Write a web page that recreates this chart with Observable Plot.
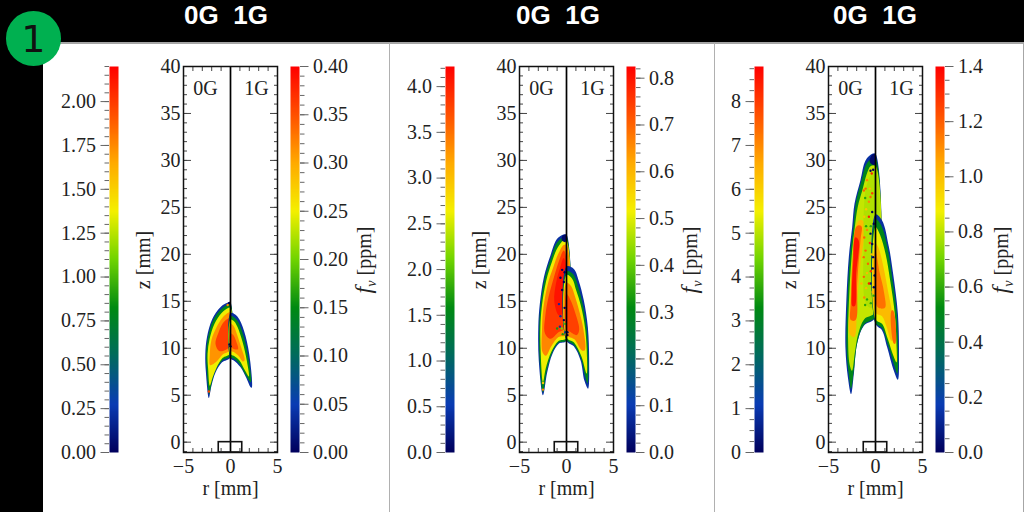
<!DOCTYPE html>
<html><head><meta charset="utf-8">
<script src="https://cdn.jsdelivr.net/npm/d3@7"></script>
<script src="https://cdn.jsdelivr.net/npm/@observablehq/plot@0.6"></script>
<style>
html,body{margin:0;padding:0;background:#000;width:1024px;height:512px;overflow:hidden}
.abs{position:absolute}
svg{position:absolute;overflow:visible;background:transparent!important}
.head{color:#fff;font:700 26px/28px "Liberation Sans";white-space:pre;transform:translateX(-50%);top:1px}
.fv{font:20px "Liberation Serif";color:#222;white-space:nowrap;transform:translate(-50%,-50%) rotate(-90deg)}
.fv sub{font-size:14px;font-style:italic;line-height:0}
.fv i{font-size:24px}
</style></head><body>
<div id="root"></div>
<script>
// ---- data ----
const colorStops  = [0, 0.125, 0.25, 0.375, 0.5, 0.625, 0.75, 0.875, 1];
const colorRange  = ["#00005c","#0a3cb4","#006a5e","#008a12","#70d400","#f4f000","#ffaa00","#ff5000","#ff0000"];

const zMajor = [0,5,10,15,20,25,30,35,40];
const zMinor = d3.range(-1,41);
const rMajor = [-5,0,5];
const rMinor = [-4,-3,-2,-1,1,2,3,4];
const burnerR = [-1.25,1.25];

const leftMax  = [2.2, 4.22, 8.8];
const rightMax = [0.4, 0.825, 1.4];
const leftTicks  = [[0,.25,.5,.75,1,1.25,1.5,1.75,2],[0,.5,1,1.5,2,2.5,3,3.5,4],[0,1,2,3,4,5,6,7,8]];
const leftMinorStep = [0.05,0.1,0.25];
const rightTicks = [[0,.05,.1,.15,.2,.25,.3,.35,.4],[0,.1,.2,.3,.4,.5,.6,.7,.8],[0,.2,.4,.6,.8,1,1.2,1.4]];
const rightMinorStep = [0.01,0.02,0.05];
const leftFormat  = [".2f",".1f","d"];
const rightFormat = [".2f",".1f",".1f"];

const flame1_0G = [
 [.1,[[-.1,14.95],[-1.05,14.4],[-1.95,13.1],[-2.5,11.2],[-2.68,9.4],[-2.62,7.5],[-2.3,4.7],[-2.05,5.9],[-1.6,7.4],[-.9,8.5],[0,9.05],[0,14.95]]],
 [.36,[[-.2,14.7],[-1,14.15],[-1.85,12.95],[-2.4,11.1],[-2.58,9.4],[-2.52,7.6],[-2.25,5.1],[-2.06,6.05],[-1.6,7.6],[-.9,8.68],[0,9.22],[0,14.7]]],
 [.62,[[-.2,14.3],[-.95,13.75],[-1.7,12.6],[-2.22,11],[-2.44,9.4],[-2.38,7.8],[-2.2,6],[-1.9,6.9],[-1.5,7.9],[-.85,8.95],[0,9.5],[0,14.3]]],
 [.78,[[-.2,13.8],[-.9,13.2],[-1.5,12.2],[-2.02,10.9],[-2.2,9.4],[-2.15,8.2],[-1.5,8.55],[-.8,9.35],[0,9.85],[0,13.8]]],
 [.9,[[-.2,13.2],[-.8,12.7],[-1.3,11.6],[-1.6,10.5],[-1.2,9.7],[-.4,9.9],[0,10.3],[0,13.2]]]
];
const flame1_1G = [
 [.1,[[0,13.75],[.5,13.6],[.95,13.05],[1.6,11.3],[2.1,8.6],[2.25,5.8],[2.1,5.9],[1.7,6.8],[1.05,8],[.35,8.7],[0,8.9]]],
 [.36,[[0,13.45],[.45,13.25],[.85,12.75],[1.47,11],[1.97,8.5],[2.17,6.4],[1.65,7.1],[1,8.25],[.35,8.9],[0,9.08]]],
 [.62,[[0,13.05],[.4,12.85],[.75,12.25],[1.3,10.6],[1.75,8.6],[1.95,7],[1.5,7.7],[.95,8.7],[.35,9.2],[0,9.4]]],
 [.78,[[0,12.6],[.35,12.35],[.65,11.6],[1.1,10.2],[1.5,8.7],[1.3,8.6],[.85,9.2],[.35,9.6],[0,9.8]]],
 [.88,[[0,11.6],[.3,11.4],[.65,10.6],[.8,9.9],[.4,9.9],[0,10.2]]]
];
const flame1_dots = [[-.15,14.8,0],[-.3,14.6,.8],[-2.3,5.4,.9],[-.1,10.4,0],[0,10.2,0]];

const flame2_0G = [
 [.1,[[-.3,22.1],[-1,21.65],[-1.7,19.9],[-2.4,17.6],[-2.84,14.7],[-3,12.25],[-2.95,8.7],[-2.5,5],[-2.05,7.45],[-1.5,9.4],[-.8,10.5],[0,10.8],[0,22.1]]],
 [.36,[[-.3,21.85],[-1,21.25],[-1.62,19.7],[-2.3,17.5],[-2.74,14.7],[-2.9,12.2],[-2.86,8.8],[-2.5,5.3],[-2.13,7.5],[-1.56,9.45],[-.85,10.58],[0,10.88],[0,21.85]]],
 [.62,[[-.3,21.5],[-.95,20.7],[-1.52,19.3],[-2.16,17.2],[-2.62,14.5],[-2.78,12.2],[-2.74,9.3],[-2.5,6.4],[-2.2,7.9],[-1.6,9.65],[-.85,10.78],[0,11.1],[0,21.5]]],
 [.8,[[-.3,21],[-.9,20],[-1.38,18.7],[-2,16.8],[-2.46,14.3],[-2.6,12.2],[-2.56,9.6],[-2.2,9.2],[-1.6,10.25],[-.85,11.2],[0,11.45],[0,21]]],
 [.91,[[-.3,20.4],[-.8,19.3],[-1.3,17.7],[-1.9,15.5],[-2.25,13.5],[-2.3,11.6],[-1.7,11],[-.85,11.7],[-.2,12.1],[-.1,20]]],
 [.97,[[-.3,19.6],[-.7,18.5],[-1.1,17],[-1.3,15],[-.8,13.5],[-.2,14],[-.1,19]]],
 [.02,[[-.1,22.1],[-.4,22],[-.5,21.5],[-.1,21.3]]]
];
const flame2_1G = [
 [.1,[[0,18.7],[.78,18.45],[1.3,17.2],[1.84,15.1],[2.27,12.25],[2.41,8.7],[2.3,5.7],[1.9,6.57],[1.5,8.7],[.78,10.2],[0,10.8]]],
 [.36,[[0,18.2],[.7,17.9],[1.17,16.8],[1.68,14.9],[2.14,12.2],[2.32,8.8],[2.24,6.25],[1.95,7.15],[1.55,8.9],[.8,10.35],[0,10.92]]],
 [.62,[[0,17.8],[.6,17.4],[1.02,16.2],[1.54,14.5],[1.98,12.1],[2.18,9],[2.14,7.3],[1.6,9.1],[.8,10.6],[0,11.15]]],
 [.8,[[0,17],[.5,16.6],[.88,15.6],[1.35,14],[1.8,12],[1.95,9.8],[1.6,9.8],[.85,10.95],[0,11.45]]],
 [.9,[[0,15.8],[.4,15.2],[.95,13.7],[1.35,12],[1.1,11.4],[.3,11.8],[0,12]]]
];
const flame2_dots = [[-.46,18.35,0],[-.2,18.1,0],[-.64,17.5,0],[-.28,17.05,0],[-.46,16.2,0],[-.8,14.7,.1],[-.2,14.3,0],[-.64,13.4,.1],[-.28,13,0],[-.7,12.3,.1],[-.1,11.7,.1],[-1,12.1,.4],[-.4,11.5,.4],[-.15,12.6,.45],[-.5,12.1,.5],[.1,11.4,0],[.1,11.7,0],[-2.5,5.6,.8],[-2.5,6.3,.7]];

const flame3_0G = [
 [.1,[[-.35,30.7],[-1.06,30],[-1.6,27.9],[-2.23,25.4],[-2.48,22.9],[-2.84,19.7],[-3.1,15.1],[-3.2,10.1],[-2.94,6.9],[-2.6,5.1],[-2.3,7.3],[-1.95,10.5],[-1.24,12.4],[0,13.3],[0,30.7]]],
 [.36,[[-.35,30.25],[-1,29.55],[-1.5,27.8],[-2.1,25.4],[-2.35,22.9],[-2.72,19.7],[-2.98,15.1],[-3.08,10.1],[-2.84,7.2],[-2.6,5.7],[-2.3,7.7],[-1.92,10.7],[-1.2,12.55],[0,13.42],[0,30.25]]],
 [.58,[[-.5,29.4],[-.95,28.5],[-1.35,27],[-1.9,25],[-2.2,22.9],[-2.55,19.7],[-2.82,15.1],[-2.92,11],[-2.76,8.3],[-2.5,7.6],[-2.2,9.5],[-1.85,11.5],[-1.2,13.1],[0,13.85],[0,29.4]]],
 [.72,[[-1.8,23.6],[-2.36,19.7],[-2.66,15.5],[-2.72,11.5],[-2.25,11.2],[-1.95,15],[-1.6,19],[-1.2,23.5]]],
 [.85,[[-2,23],[-2.42,19.7],[-2.62,15],[-2.62,13],[-2.12,13],[-1.95,17],[-1.6,21.5],[-1.5,23]]],
 [.97,[[-2.15,21.8],[-2.38,19],[-2.52,16],[-2.47,14.5],[-2.2,14.5],[-2.05,18],[-1.8,21.5]]],
 [.56,[[-.9,27.5],[-1.25,24.5],[-1.25,21],[-1.3,17],[-1.1,15],[-.6,14.3],[0,14.5],[0,29]]],
 [.02,[[-.1,30.7],[-.45,30.5],[-.6,29.8],[-.1,29.5]]]
];
const flame3_1G = [
 [.1,[[0,24.25],[.7,23.6],[1.42,20.8],[1.88,17.9],[2.38,13.7],[2.5,9.4],[2.38,6.64],[1.95,7.6],[1.24,10.1],[.7,11.9],[0,12.6]]],
 [.36,[[0,23.75],[.6,23.1],[1.3,20.6],[1.75,17.7],[2.26,13.7],[2.4,9.6],[2.32,7.3],[2,8.2],[1.3,10.45],[.7,12.15],[0,12.75]]],
 [.62,[[0,22.9],[.47,22.1],[1.08,20],[1.55,17.3],[2.06,13.6],[2.25,10],[2.24,8.5],[1.9,9.2],[1.3,11],[.7,12.6],[0,13.1]]],
 [.72,[[0,21.2],[.32,20.7],[.88,18.5],[1.35,16],[1.82,13.5],[2.06,11],[1.7,10.8],[1.2,12.2],[.7,13.4],[0,13.8]]],
 [.83,[[0,20.4],[.45,18],[.9,16],[1,14.3],[.3,14.3],[0,15]]],
 [.84,[[1.9,14],[2.12,10.5],[1.95,10.5],[1.7,14]]]
];
const flame3_dots = [[-.53,28.9,0],[-.25,29,0],[-.4,28.6,.95],[-.35,24.5,0],[-.18,23.25,0],[-.53,22.2,0],[-.35,21.1,0],[-.25,19.7,0],[-.1,17.75,0],[-.53,16.9,.05],[-.18,16.5,0],[-.3,18.5,0],[-.35,26.5,.9],
 [-1.24,26.8,.85],[-1.05,27,.85],[-.9,27.9,.8],[-.7,24,.95],[-1.2,21.8,.85],[-1.25,19.7,.85],[-1.06,20.4,.85],[-1.24,17.6,.85],[-.7,16.9,.95],[-1.5,16.9,.72],[-1.2,15.4,.8],[-.53,26.1,.85],[-.7,25.6,.8],[-.9,22.6,.8],[-.6,21.2,.9],[-.8,19,.85],[-.5,18.2,.9],[-1,24.8,.7],[-1.2,24,.7],
 [-.5,14.8,.42],[-.9,15.2,.42],[-1.1,14.6,.42],[-.2,15.6,.42],[-1,23,.42],[-.5,23,.42],[-1.1,26,.42],[-.4,20,.72],[-.9,18,.72],[-.3,16,.72],[-1,16.4,.72],[-.6,27,.72]];
const allFlames = [[flame1_0G,flame1_1G,flame1_dots],[flame2_0G,flame2_1G,flame2_dots],[flame3_0G,flame3_1G,flame3_dots]];

// ---- layout ----
const root = document.getElementById("root");
function box(css,html,cls){const d=document.createElement("div");d.className="abs "+(cls||"");d.style.cssText+=css;if(html)d.innerHTML=html;root.appendChild(d);return d;}
box("left:43px;top:42px;width:981px;height:470px;background:#fff;border-top:2px solid #a6a6a6;box-sizing:border-box");
box("left:389px;top:43px;width:1px;height:469px;background:#b0b0b0");
box("left:714px;top:43px;width:1px;height:469px;background:#b0b0b0");
box("left:1023px;top:42px;width:1px;height:470px;background:#a6a6a6");
box("left:5.5px;top:10.5px;width:55.5px;height:55px;border-radius:50%;background:#00b050");
box("left:5.5px;top:10.5px;width:55.5px;height:55px;text-align:center;font:38px/56px 'DejaVu Sans';color:#111","1");
["226px","558px","875px"].forEach(l=>box(`left:${l}`,"0G  1G","head"));

const frameTop=66, frameH=386;
const frameLeft=[183,519,828], frameW=94;
const leftBar=[109,445,754], rightBar=[290,626,935], barW=9;
const zLabelX=[143,479,789], fvLabelX=[363,689,1000];

const serif={fontFamily:"Liberation Serif",fontSize:"20px",color:"#222"};
const colorOf=max=>({type:"linear",domain:colorStops.map(s=>s*max),range:colorRange,clamp:true});

function place(svg,left,top){svg.style.left=left+"px";svg.style.top=top+"px";root.appendChild(svg);}

function colorbar(i,max,ticks,step,fmt,side){
  const mt=8,mb=8,ms=50;
  const minor=d3.range(0,Math.round(max/step)+1).map(k=>k*step);
  const svg=Plot.plot({
    width:barW+ms,height:frameH+mt+mb,
    marginTop:mt,marginBottom:mb,
    marginLeft:side==="left"?ms:0,marginRight:side==="left"?0:ms,
    style:serif,
    x:{domain:[0,1],axis:null},
    y:{domain:[0,max],axis:null},
    color:colorOf(max),
    marks:[
      Plot.raster({x1:0,x2:1,y1:0,y2:max,width:1,height:400,fill:(x,y)=>y}),
      Plot.axisY(minor,{anchor:side,tickSize:4.5,stroke:"#666",text:null,label:null}),
      Plot.axisY(ticks,{anchor:side,tickSize:8.5,tickPadding:5,stroke:"#666",fill:"#222",tickFormat:fmt,label:null})
    ]
  });
  place(svg,side==="left"?leftBar[i]-ms:rightBar[i],frameTop-mt);
}

function mainPlot(i){
  const [L,R,D]=allFlames[i];
  const rows=[];
  [L,R].forEach((bands,s)=>bands.forEach(([level,pts],b)=>pts.forEach(([r,z])=>rows.push({r,z,level,poly:s+"-"+b}))));
  const dots=D.map(([r,z,level])=>({r,z,level}));
  const ml=48,mr=8,mt=8,mb=50;
  const svg=Plot.plot({
    width:frameW+ml+mr,height:frameH+mt+mb,
    marginLeft:ml,marginRight:mr,marginTop:mt,marginBottom:mb,
    style:serif,
    x:{domain:[-5,5]},
    y:{domain:[-1.1,40]},
    color:colorOf(1),
    marks:[
      Plot.line(rows,{x:"r",y:"z",z:"poly",fill:"level",stroke:"none",curve:"catmull-rom-closed"}),
      Plot.dot(dots,{x:"r",y:"z",r:1.2,fill:"level",stroke:"none"}),
      Plot.ruleX([0],{stroke:"#000",strokeWidth:1.7}),
      Plot.rect([burnerR],{x1:d=>d[0],x2:d=>d[1],y1:-1.1,y2:0,fill:"none",stroke:"#111",strokeWidth:1.6}),
      Plot.axisY(zMinor,{anchor:"left",tickSize:-4,stroke:"#444",text:null,label:null}),
      Plot.axisY(zMinor,{anchor:"right",tickSize:-4,stroke:"#444",text:null,label:null}),
      Plot.axisY(zMajor,{anchor:"right",tickSize:-8,stroke:"#444",text:null,label:null}),
      Plot.axisY(zMajor,{anchor:"left",tickSize:-8,tickPadding:11,stroke:"#444",fill:"#222",label:null}),
      Plot.axisX(rMinor,{anchor:"bottom",tickSize:-4,stroke:"#444",text:null,label:null}),
      Plot.axisX(rMinor,{anchor:"top",tickSize:-4,stroke:"#444",text:null,label:null}),
      Plot.axisX(rMajor,{anchor:"bottom",tickSize:0,tickPadding:6,fill:"#222",label:"r [mm]",labelAnchor:"center",labelArrow:"none",labelOffset:42}),
      Plot.frame({stroke:"#111",strokeWidth:1.5}),
      Plot.text(["0G"],{x:-2.65,y:37.6,text:d=>d,fill:"#222",fontSize:20}),
      Plot.text(["1G"],{x:2.77,y:37.6,text:d=>d,fill:"#222",fontSize:20})
    ]
  });
  svg.querySelectorAll('[aria-label="line"]').forEach(g=>g.style.filter="blur(0.45px)");
  svg.querySelectorAll('[aria-label="dot"]').forEach(g=>g.style.filter="blur(0.4px)");
  place(svg,frameLeft[i]-ml,frameTop-mt);
}

for(let i=0;i<3;i++){
  colorbar(i,leftMax[i],leftTicks[i],leftMinorStep[i],leftFormat[i],"left");
  mainPlot(i);
  colorbar(i,rightMax[i],rightTicks[i],rightMinorStep[i],rightFormat[i],"right");
  box(`left:${zLabelX[i]}px;top:260px`,"z [mm]","fv");
  box(`left:${fvLabelX[i]}px;top:260px`,"<i>f</i><sub>ν</sub> [ppm]","fv");
}
</script></body></html>
